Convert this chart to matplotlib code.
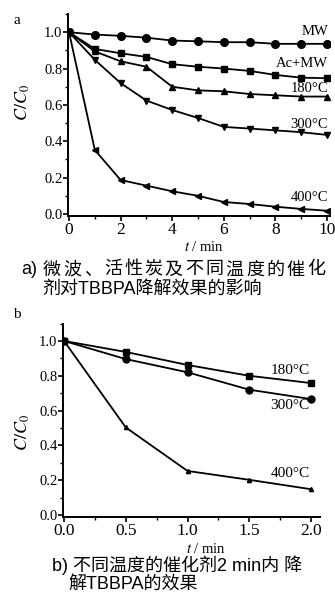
import numpy as np
import matplotlib
matplotlib.use("Agg")
import matplotlib.pyplot as plt
from matplotlib.ticker import MultipleLocator, FormatStrFormatter

plt.rcParams['font.family'] = ['Liberation Serif', 'DejaVu Serif']
plt.rcParams['mathtext.fontset'] = 'stix'

# panel a: microwave, activated carbon and catalysts at different temperatures
t_a = [0, 1, 2, 3, 4, 5, 6, 7, 8, 9, 10]
mw = [1.0, 0.987, 0.98, 0.97, 0.954, 0.95, 0.945, 0.945, 0.936, 0.936, 0.936]
ac_mw = [1.0, 0.908, 0.884, 0.864, 0.824, 0.81, 0.80, 0.787, 0.765, 0.75, 0.747]
c180_a = [1.0, 0.894, 0.84, 0.81, 0.70, 0.68, 0.675, 0.66, 0.653, 0.646, 0.646]
c300_a = [1.0, 0.848, 0.72, 0.624, 0.572, 0.528, 0.479, 0.47, 0.46, 0.45, 0.435]
c400_a = [1.0, 0.352, 0.187, 0.156, 0.125, 0.10, 0.066, 0.055, 0.04, 0.028, 0.018]

# panel b: catalysts within 2 min
t_b = [0.0, 0.5, 1.0, 1.5, 2.0]
c180_b = [1.0, 0.937, 0.862, 0.80, 0.758]
c300_b = [1.0, 0.896, 0.82, 0.72, 0.666]
c400_b = [1.0, 0.503, 0.253, 0.202, 0.148]

fig = plt.figure(figsize=(3.35, 6.02), dpi=100)
ax1 = fig.add_axes([0.203, 0.6415, 0.781, 0.3352])
ax2 = fig.add_axes([0.1875, 0.1417, 0.7666, 0.3208])

kw = dict(color='black', lw=1.3)
ax1.plot(t_a, mw, marker='o', ms=5.5, **kw)
ax1.plot(t_a, ac_mw, marker='s', ms=5, **kw)
ax1.plot(t_a, c180_a, marker='^', ms=4.5, **kw)
ax1.plot(t_a, c300_a, marker='v', ms=4.5, **kw)
ax1.plot(t_a, c400_a, marker='<', ms=4.5, **kw)

ax2.plot(t_b, c180_b, marker='s', ms=4.5, **kw)
ax2.plot(t_b, c300_b, marker='o', ms=5, **kw)
ax2.plot(t_b, c400_b, marker='^', ms=3, **kw)

ax1.set_xlim(-0.04, 10.1)
ax1.set_ylim(-0.01, 1.1)
ax1.xaxis.set_major_locator(MultipleLocator(2))
ax1.xaxis.set_minor_locator(MultipleLocator(1))
ax2.set_xlim(-0.01, 2.07)
ax2.set_ylim(-0.01, 1.1)
ax2.xaxis.set_major_locator(MultipleLocator(0.5))
ax2.xaxis.set_minor_locator(MultipleLocator(0.25))
ax2.xaxis.set_major_formatter(FormatStrFormatter('%.1f'))

for ax in (ax1, ax2):
    ax.yaxis.set_major_locator(MultipleLocator(0.2))
    ax.yaxis.set_minor_locator(MultipleLocator(0.1))
    ax.yaxis.set_major_formatter(FormatStrFormatter('%.1f'))
    ax.spines['top'].set_visible(False)
    ax.spines['right'].set_visible(False)
    ax.spines['left'].set_linewidth(1.4)
    ax.spines['bottom'].set_linewidth(1.4)
    ax.tick_params(which='major', direction='out', length=3.5, width=1.2, pad=1)
    ax.tick_params(which='minor', direction='out', length=2, width=1)
    ax.tick_params(axis='x', labelsize=12.5)
    ax.tick_params(axis='y', labelsize=10.5, pad=0.5)
    ax.patch.set_alpha(0)

lab = dict(ha='right', va='center', fontsize=10.5)
ax1.text(10.05, 1.005, 'MW', **lab)
ax1.text(10.05, 0.83, 'Ac+MW', **lab)
ax1.text(10.05, 0.69, '180°C', **lab)
ax1.text(10.05, 0.49, '300°C', **lab)
ax1.text(10.05, 0.09, '400°C', **lab)

lab['fontsize'] = 11
ax2.text(1.99, 0.83, '180°C', **lab)
ax2.text(1.99, 0.63, '300°C', **lab)
ax2.text(1.99, 0.24, '400°C', **lab)

def fy(py):
    return 1 - py / 602

fig.text(17 / 335, fy(20), 'a', fontsize=11, ha='center', va='center')
fig.text(17 / 335, fy(315), 'b', fontsize=11, ha='center', va='center')
fig.text(23 / 335, fy(103), '$C/C_0$', fontsize=13, rotation=90, ha='center', va='center')
fig.text(23 / 335, fy(433), '$C/C_0$', fontsize=13, rotation=90, ha='center', va='center')
fig.text(204 / 335, fy(247), '$t$ / min', fontsize=10.5, ha='center', va='center')
fig.text(206 / 335, fy(549), '$t$ / min', fontsize=10.5, ha='center', va='center')

cap = dict(fontsize=13, ha='left', va='center', family=['Liberation Sans', 'Noto Sans CJK SC'])

# first caption line is justified: spread the characters over the line
fig.text(21 / 335, fy(270), 'a)', **cap)
for i, ch in enumerate('微波、活性炭及不同温度的催化'):
    fig.text((43 + i * 20.3) / 335, fy(270), ch, **cap)
fig.text(42 / 335, fy(289), '剂对TBBPA降解效果的影响', **cap)
fig.text(52 / 335, fy(565), 'b) 不同温度的催化剂2 min内 降', **cap)
fig.text(68 / 335, fy(584), '解TBBPA的效果', **cap)

fig.savefig('out.png', dpi=100)
